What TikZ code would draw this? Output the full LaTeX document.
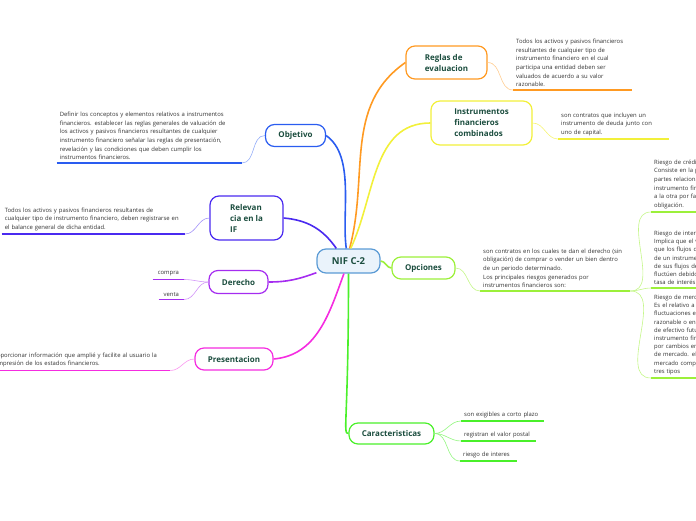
\documentclass[tikz,border=0pt]{standalone}
\usepackage{fontspec}
\setmainfont{Open Sans}
\usepackage{tikz}
\usetikzlibrary{positioning}
\definecolor{objblue}{HTML}{2A5CF0}
\definecolor{relblue}{HTML}{4A2AF0}
\definecolor{derpurple}{HTML}{A52CF0}
\definecolor{premag}{HTML}{F52CE0}
\definecolor{regorange}{HTML}{FF9A22}
\definecolor{insyellow}{HTML}{F2F03A}
\definecolor{opclime}{HTML}{9CF03A}
\definecolor{cargreen}{HTML}{4AF02A}
\definecolor{nifblue}{HTML}{5B9BD5}
\definecolor{niffill}{HTML}{EAF3FB}
\definecolor{labeltext}{HTML}{1B4D3E}
\definecolor{leaftext}{HTML}{333333}

\begin{document}
\begin{tikzpicture}[x=1pt, y=-1pt,
  topic/.style={draw, rounded corners=9pt, line width=1.2pt, fill=white, align=left,
    text=labeltext, font=\fontsize{8}{11}\selectfont\bfseries, inner sep=0pt},
  leaf/.style={align=left, text=leaftext, inner xsep=3pt, inner ysep=3pt,
    font=\fontsize{5.9}{8.6}\selectfont},
  tightleaf/.style={leaf, font=\fontsize{5.9}{8.2}\selectfont},
  branch/.style={line width=1.6pt},
  twig/.style={line width=0.6pt}]
  \useasboundingbox (0,0) rectangle (696,520);
  \clip (0,0) rectangle (696,520);

  % central topic
  \node [draw=nifblue, fill=niffill, line width=1.2pt, rounded corners=9pt,
    minimum width=63pt, minimum height=24pt, text=labeltext,
    font=\fontsize{9.5}{11}\selectfont\bfseries] (nif) at (348.5,261) {NIF C-2};

  % main topics
  \node [topic, draw=objblue, minimum width=60pt, minimum height=22pt] (objetivo) at (295.5,135.5) {Objetivo};
  \node [topic, draw=relblue, minimum width=73pt, minimum height=44pt] (relevancia) at (246.5,218) {Relevan\\cia en la\\IF};
  \node [topic, draw=derpurple, minimum width=59pt, minimum height=23pt] (derecho) at (238.5,282) {Derecho};
  \node [topic, draw=premag, minimum width=78pt, minimum height=22pt] (presentacion) at (234,359) {Presentacion};
  \node [topic, draw=regorange, minimum width=81pt, minimum height=33pt] (reglas) at (446.5,62.5) {Reglas de\\evaluacion};
  \node [topic, draw=insyellow, minimum width=101pt, minimum height=44pt] (instrumentos) at (481.5,123) {Instrumentos\\financieros\\combinados};
  \node [topic, draw=opclime, minimum width=63pt, minimum height=22pt] (opciones) at (423.5,268) {Opciones};
  \node [topic, draw=cargreen, minimum width=85pt, minimum height=21pt] (caracteristicas) at (391.5,433.5) {Caracteristicas};

  % descriptions
  \node [leaf, text width=179pt, anchor=south east] (objleaf) at (242,163)
  {Definir los conceptos y elementos relativos a instrumentos\\financieros. establecer las reglas generales de valuación de\\los activos y pasivos financieros resultantes de cualquier\\instrumento financiero señalar las reglas de presentación,\\revelación y las condiciones que deben cumplir los\\instrumentos financieros.};
  \node [leaf, text width=177pt, anchor=south east] (relleaf) at (185,234)
  {Todos los activos y pasivos financieros resultantes de\\cualquier tipo de instrumento financiero, deben registrarse en\\el balance general de dicha entidad.};
  \node [leaf, minimum width=31pt, anchor=south east] (compra) at (184,279.5) {compra};
  \node [leaf, minimum width=25pt, anchor=south east] (venta) at (184,299.5) {venta};
  \node [leaf, text width=176pt, anchor=south west] (preleaf) at (-12,370.5)
  {Proporcionar información que amplié y facilite al usuario la\\compresión de los estados financieros.};
  \node [leaf, text width=113pt, anchor=south west] (regleaf) at (513,90)
  {Todos los activos y pasivos financieros\\resultantes de cualquier tipo de\\instrumento financiero en el cual\\participa una entidad deben ser\\valuados de acuerdo a su valor\\razonable.};
  \node [leaf, text width=105pt, anchor=south west] (insleaf) at (558,139)
  {son contratos que incluyen un\\instrumento de deuda junto con\\uno de capital.};
  \node [leaf, text width=144pt, anchor=south west] (opcleaf) at (480,291)
  {son contratos en los cuales te dan el derecho (sin\\obligación) de comprar o vender un bien dentro\\de un periodo determinado.\\Los principales riesgos generados por\\instrumentos financieros son:};
  \node [leaf, text width=140pt, anchor=south west] (riskA) at (651,212)
  {Riesgo de crédito:\\Consiste en la pérdida que una de las\\partes relacionadas con un\\instrumento financiero pueda causar\\a la otra por falta de cumplimiento de una\\obligación.};
  \node [tightleaf, text width=140pt, anchor=south west] (riskB) at (651,288)
  {Riesgo de interés:\\Implica que el valor razonable o\\que los flujos de efectivo futuros\\de un instrumento financiero, o\\de sus flujos de efectivo,\\fluctúen debido a cambios en la\\tasa de interés de mercado.};
  \node [tightleaf, text width=140pt, anchor=south west] (riskC) at (651,378)
  {Riesgo de mercado:\\Es el relativo a las\\fluctuaciones en el valor\\razonable o en los flujos\\de efectivo futuros de un\\instrumento financiero\\por cambios en los precios\\de mercado. el riesgo de\\mercado comprende\\tres tipos};
  \node [leaf, text width=77pt, anchor=south west] (carA) at (461,421) {son exigibles a corto plazo};
  \node [leaf, text width=69pt, anchor=south west] (carB) at (461,441) {registran el valor postal};
  \node [leaf, text width=51pt, anchor=south west] (carC) at (460,461) {riesgo de interes};

  % underlines
  \foreach \leaf/\col in {objleaf/objblue, relleaf/relblue, compra/derpurple, venta/derpurple,
      preleaf/premag, regleaf/regorange, insleaf/insyellow, opcleaf/opclime,
      riskA/opclime, riskB/opclime, riskC/opclime, carA/cargreen, carB/cargreen, carC/cargreen}
    \draw [line width=1.5pt, \col] (\leaf.south west) -- (\leaf.south east);

  % main branches
  \draw [branch, objblue] (nif.100) to[out=98, in=-35, looseness=0.8] (objetivo.east);
  \draw [branch, relblue] (nif.134) to[out=125, in=-5] (relevancia.east);
  \draw [branch, derpurple] (nif.200) to[out=200, in=0] (derecho.east);
  \draw [branch, premag] (nif.250) to[out=250, in=5] (presentacion.east);
  \draw [branch, regorange] (nif.85) to[out=75, in=215] (reglas.west);
  \draw [branch, insyellow] (nif.80) to[out=65, in=180] (instrumentos.west);
  \draw [branch, opclime] (nif.east) to[out=0, in=180] (opciones.west);
  \draw [branch, cargreen] (nif.south) .. controls +(0,150) and +(-6,0) .. (caracteristicas.west);

  % twigs to descriptions
  \draw [twig, objblue!50] (objetivo.west) to[out=180, in=0] (objleaf.south east);
  \draw [twig, relblue!50] (relevancia.west) to[out=180, in=0] (relleaf.south east);
  \draw [twig, derpurple!50] (derecho.west) to[out=180, in=0] (compra.south east);
  \draw [twig, derpurple!50] (derecho.west) to[out=180, in=0] (venta.south east);
  \draw [twig, premag!50] (presentacion.west) to[out=180, in=0] (preleaf.south east);
  \draw [twig, regorange!50] (reglas.east) to[out=0, in=180] (regleaf.south west);
  \draw [twig, insyellow!70] (instrumentos.east) to[out=0, in=180] (insleaf.south west);
  \draw [twig, opclime!60] (opciones.east) to[out=0, in=180] (opcleaf.south west);
  \foreach \r in {riskA, riskB, riskC}
    \draw [twig, opclime!60] (opcleaf.south east) to[out=0, in=180] (\r.south west);
  \foreach \c in {carA, carB, carC}
    \draw [twig, cargreen!60] (caracteristicas.east) to[out=0, in=180] (\c.south west);
\end{tikzpicture}
\end{document}
